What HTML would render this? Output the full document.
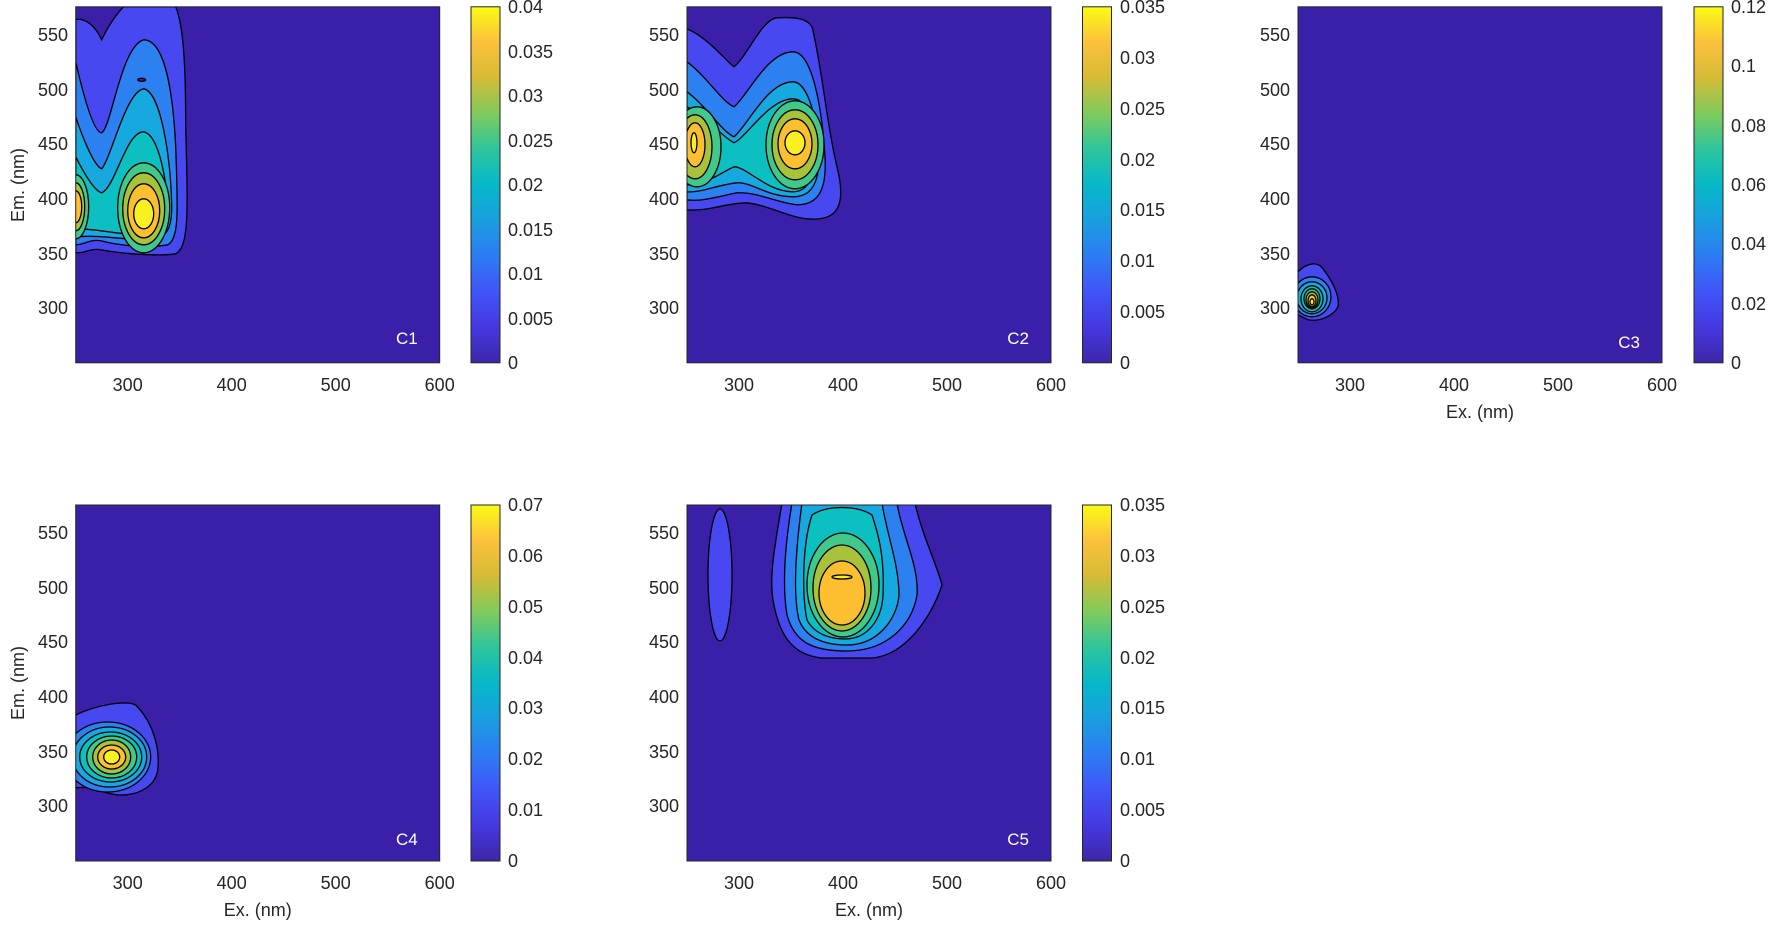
<!DOCTYPE html>
<html><head><meta charset="utf-8"><style>
html,body{margin:0;padding:0;background:#fff;}
svg{display:block;font-family:"Liberation Sans",Arial,sans-serif;}
.t{font-size:18px;fill:#262626;}
.c path,.c ellipse{stroke:#000;stroke-width:1.3;}
</style></head><body>
<svg width="1772" height="927" viewBox="0 0 1772 927">
<defs>
<linearGradient id="par" x1="0" y1="1" x2="0" y2="0">
<stop offset="0" stop-color="#3e26a8"/><stop offset="0.1" stop-color="#4538e0"/>
<stop offset="0.2" stop-color="#4055f8"/><stop offset="0.3" stop-color="#2c7cf2"/>
<stop offset="0.4" stop-color="#1a9ee0"/><stop offset="0.5" stop-color="#06b8c8"/>
<stop offset="0.6" stop-color="#2ec59c"/><stop offset="0.7" stop-color="#7fcb5c"/>
<stop offset="0.8" stop-color="#d5bb36"/><stop offset="0.9" stop-color="#fcc13c"/>
<stop offset="1" stop-color="#f9fb14"/></linearGradient>
<clipPath id="cp"><rect x="0" y="0" width="364" height="356"/></clipPath>
</defs>

<!-- ============ C1 ============ -->
<g transform="translate(75.7,6.8)">
<rect width="364" height="356" fill="#3a20a8"/>
<g clip-path="url(#cp)" class="c">
<path fill="#4748f0" d="M0,0 L100,0 C108,20 110,60 110,120 C112,200 114,240 100,247 C80,250 40,246 25,243 C15,241 8,247 0,246 Z"/>
<path fill="#3a20a8" d="M-2,13 C10,10 20,20 26,33 C32,20 42,5 50,-2 L-2,-2 Z"/>
<path fill="#2c80f0" d="M0,55 C8,90 18,126 26,126 C36,120 45,40 68,33 C88,33 97,80 100,140 C102,200 104,232 92,238 C70,242 40,238 25,234 C15,232 8,238 0,238 Z"/>
<path fill="#18a8e0" d="M0,110 C10,140 20,160 26,162 C36,150 50,85 68,82 C85,85 95,150 96,200 C96,225 90,232 70,233 C45,233 30,228 0,230 Z"/>
<path fill="#0cbfc0" d="M0,150 C10,170 20,185 26,186 C40,180 50,125 68,125 C84,128 92,180 92,205 C92,222 82,228 68,228 C40,228 25,222 0,222 Z"/>
<ellipse fill="#40c98a" cx="68" cy="201" rx="26" ry="45"/><ellipse fill="#40c98a" cx="0" cy="200" rx="13" ry="32"/>
<ellipse fill="#a8c23c" cx="68" cy="202" rx="21" ry="36"/><ellipse fill="#a8c23c" cx="0" cy="200" rx="9" ry="24"/>
<ellipse fill="#fcbf30" cx="68" cy="204" rx="16" ry="27"/><ellipse fill="#fcbf30" cx="0" cy="200" rx="6" ry="16"/>
<ellipse fill="#f8f020" cx="68" cy="207" rx="10" ry="15"/>
<ellipse fill="#3a20a8" cx="66" cy="73" rx="4" ry="1.5"/>
</g>
<rect width="364" height="356" fill="none" stroke="#262626" stroke-width="1"/>
<text x="342" y="337" fill="#fff" font-size="17" text-anchor="end">C1</text>
</g>

<!-- ============ C2 ============ -->
<g transform="translate(687,6.8)">
<rect width="364" height="356" fill="#3a20a8"/>
<g clip-path="url(#cp)" class="c">
<path fill="#4748f0" d="M0,22 C20,30 40,55 47,60 C60,50 75,12 90,11 C110,10 120,12 125,20 C135,60 140,120 150,160 C160,200 150,215 120,212 C100,210 80,198 60,196 C40,196 20,205 0,203 Z"/>
<path fill="#2c80f0" d="M0,55 C20,70 35,95 47,100 C60,90 80,45 106,45 C125,45 135,100 138,150 C140,185 130,198 110,198 C90,196 70,185 50,186 C30,190 15,195 0,193 Z"/>
<path fill="#18a8e0" d="M0,85 C20,100 35,125 47,130 C60,120 80,75 106,75 C122,75 132,120 132,150 C132,180 122,190 106,190 C80,190 65,175 50,176 C30,178 15,186 0,185 Z"/>
<path fill="#0cbfc0" d="M0,100 C20,110 35,130 47,136 C60,130 82,92 106,92 C124,92 128,130 128,145 C128,175 118,185 106,185 C80,185 60,160 47,160 C35,165 20,178 0,178 Z"/>
<ellipse fill="#40c98a" cx="10" cy="140" rx="24" ry="40"/><ellipse fill="#40c98a" cx="108" cy="138" rx="29" ry="44"/>
<ellipse fill="#a8c23c" cx="8" cy="140" rx="17" ry="32"/><ellipse fill="#a8c23c" cx="108" cy="138" rx="23" ry="35"/>
<ellipse fill="#fcbf30" cx="8" cy="138" rx="10" ry="22"/><ellipse fill="#fcbf30" cx="108" cy="137" rx="17" ry="25"/>
<ellipse fill="#f8f020" cx="108" cy="136" rx="10" ry="12"/><ellipse fill="#f8f020" cx="7" cy="136" rx="3" ry="10"/>
</g>
<rect width="364" height="356" fill="none" stroke="#262626"/>
<text x="342" y="337" fill="#fff" font-size="17" text-anchor="end">C2</text>
</g>

<!-- ============ C3 ============ -->
<g transform="translate(1298,6.8)">
<rect width="364" height="356" fill="#3a20a8"/>
<g clip-path="url(#cp)" class="c">
<path fill="#4748f0" d="M0,265 C10,255 20,255 25,262 C35,275 42,290 40,300 C35,310 20,315 10,313 L0,308 Z"/>
<ellipse fill="#2c80f0" cx="14" cy="290" rx="19" ry="20"/>
<ellipse fill="#18a8e0" cx="14" cy="291" rx="15" ry="16"/>
<ellipse fill="#0cbfc0" cx="14" cy="292" rx="11" ry="13"/>
<ellipse fill="#40c98a" cx="14" cy="292" rx="8" ry="10"/>
<ellipse fill="#a8c23c" cx="14" cy="293" rx="6" ry="8"/>
<ellipse fill="#fcbf30" cx="14" cy="294" rx="4" ry="6"/>
<ellipse fill="#f8f020" cx="14" cy="295" rx="2" ry="3"/>
</g>
<rect width="364" height="356" fill="none" stroke="#262626"/>
<text x="342" y="341" fill="#fff" font-size="17" text-anchor="end">C3</text>
</g>

<!-- ============ C4 ============ -->
<g transform="translate(75.7,505)">
<rect width="364" height="356" fill="#3a20a8"/>
<g clip-path="url(#cp)" class="c">
<path fill="#4748f0" d="M0,210 C20,200 50,195 60,200 C75,215 85,240 82,265 C80,280 65,290 45,290 C30,290 15,280 0,283 Z"/>
<ellipse fill="#2c80f0" cx="32" cy="252" rx="43" ry="35"/>
<ellipse fill="#18a8e0" cx="34" cy="252" rx="37" ry="30"/>
<ellipse fill="#0cbfc0" cx="35" cy="252" rx="31" ry="25"/>
<ellipse fill="#40c98a" cx="36" cy="252" rx="25" ry="21"/>
<ellipse fill="#a8c23c" cx="36" cy="252" rx="19" ry="17"/>
<ellipse fill="#fcbf30" cx="36" cy="252" rx="14" ry="12"/>
<ellipse fill="#f8f020" cx="36" cy="252" rx="8" ry="7"/>
</g>
<rect width="364" height="356" fill="none" stroke="#262626"/>
<text x="342" y="340" fill="#fff" font-size="17" text-anchor="end">C4</text>
</g>

<!-- ============ C5 ============ -->
<g transform="translate(687,505)">
<rect width="364" height="356" fill="#3a20a8"/>
<g clip-path="url(#cp)" class="c">
<ellipse fill="#4748f0" cx="33" cy="70" rx="12" ry="66"/>
<path fill="#4748f0" d="M95,-2 C88,40 82,70 86,95 C92,130 105,150 135,153 L185,153 C220,150 245,110 255,80 C250,60 235,30 228,-2 Z"/>
<path fill="#2c80f0" d="M105,-2 C98,40 95,80 100,110 C108,140 130,146 160,146 C200,146 225,120 230,90 C232,60 215,30 210,-2 Z"/>
<path fill="#18a8e0" d="M115,-2 C108,50 106,90 112,115 C120,135 140,140 160,140 C190,140 210,115 212,90 C212,60 200,30 195,-2 Z"/>
<path fill="#0cbfc0" d="M125,10 C115,40 115,90 120,115 C128,130 145,134 158,134 C180,134 195,115 196,90 C198,50 190,25 185,10 C170,0 140,0 125,10 Z"/>
<ellipse fill="#40c98a" cx="156" cy="80" rx="36" ry="52"/>
<ellipse fill="#a8c23c" cx="155" cy="83" rx="29" ry="43"/>
<ellipse fill="#fcbf30" cx="155" cy="88" rx="23" ry="32"/>
<ellipse fill="#f8f020" cx="155" cy="72" rx="10" ry="2"/>
</g>
<rect width="364" height="356" fill="none" stroke="#262626"/>
<text x="342" y="340" fill="#fff" font-size="17" text-anchor="end">C5</text>
</g>

<!-- Colorbars -->
<g stroke="#262626" stroke-width="1">
<rect x="471" y="6.8" width="29" height="356" fill="url(#par)"/>
<rect x="1082.5" y="6.8" width="29" height="356" fill="url(#par)"/>
<rect x="1694" y="6.8" width="29" height="356" fill="url(#par)"/>
<rect x="471" y="505" width="29" height="356" fill="url(#par)"/>
<rect x="1082.5" y="505" width="29" height="356" fill="url(#par)"/>
</g>

<!-- Tick labels -->
<g class="t" text-anchor="middle">
<text x="127.7" y="391">300</text><text x="231.7" y="391">400</text><text x="335.7" y="391">500</text><text x="439.7" y="391">600</text>
<text x="739" y="391">300</text><text x="843" y="391">400</text><text x="947" y="391">500</text><text x="1051" y="391">600</text>
<text x="1350" y="391">300</text><text x="1454" y="391">400</text><text x="1558" y="391">500</text><text x="1662" y="391">600</text>
<text x="127.7" y="889">300</text><text x="231.7" y="889">400</text><text x="335.7" y="889">500</text><text x="439.7" y="889">600</text>
<text x="739" y="889">300</text><text x="843" y="889">400</text><text x="947" y="889">500</text><text x="1051" y="889">600</text>
<text x="1480" y="418">Ex. (nm)</text>
<text x="257.7" y="916">Ex. (nm)</text>
<text x="869" y="916">Ex. (nm)</text>
</g>
<g class="t" text-anchor="end">
<text x="68" y="41">550</text><text x="68" y="96">500</text><text x="68" y="150">450</text><text x="68" y="205">400</text><text x="68" y="260">350</text><text x="68" y="314">300</text>
<text x="679" y="41">550</text><text x="679" y="96">500</text><text x="679" y="150">450</text><text x="679" y="205">400</text><text x="679" y="260">350</text><text x="679" y="314">300</text>
<text x="1290" y="41">550</text><text x="1290" y="96">500</text><text x="1290" y="150">450</text><text x="1290" y="205">400</text><text x="1290" y="260">350</text><text x="1290" y="314">300</text>
<text x="68" y="539">550</text><text x="68" y="594">500</text><text x="68" y="648">450</text><text x="68" y="703">400</text><text x="68" y="758">350</text><text x="68" y="812">300</text>
<text x="679" y="539">550</text><text x="679" y="594">500</text><text x="679" y="648">450</text><text x="679" y="703">400</text><text x="679" y="758">350</text><text x="679" y="812">300</text>
</g>
<g class="t">
<text transform="translate(24,185) rotate(-90)" text-anchor="middle">Em. (nm)</text>
<text transform="translate(24,683) rotate(-90)" text-anchor="middle">Em. (nm)</text>
<text x="508" y="13">0.04</text><text x="508" y="58">0.035</text><text x="508" y="102">0.03</text><text x="508" y="147">0.025</text><text x="508" y="191">0.02</text><text x="508" y="236">0.015</text><text x="508" y="280">0.01</text><text x="508" y="325">0.005</text><text x="508" y="369">0</text>
<text x="1120" y="13">0.035</text><text x="1120" y="64">0.03</text><text x="1120" y="115">0.025</text><text x="1120" y="166">0.02</text><text x="1120" y="216">0.015</text><text x="1120" y="267">0.01</text><text x="1120" y="318">0.005</text><text x="1120" y="369">0</text>
<text x="1731" y="13">0.12</text><text x="1731" y="72">0.1</text><text x="1731" y="132">0.08</text><text x="1731" y="191">0.06</text><text x="1731" y="250">0.04</text><text x="1731" y="310">0.02</text><text x="1731" y="369">0</text>
<text x="508" y="511">0.07</text><text x="508" y="562">0.06</text><text x="508" y="613">0.05</text><text x="508" y="664">0.04</text><text x="508" y="714">0.03</text><text x="508" y="765">0.02</text><text x="508" y="816">0.01</text><text x="508" y="867">0</text>
<text x="1120" y="511">0.035</text><text x="1120" y="562">0.03</text><text x="1120" y="613">0.025</text><text x="1120" y="664">0.02</text><text x="1120" y="714">0.015</text><text x="1120" y="765">0.01</text><text x="1120" y="816">0.005</text><text x="1120" y="867">0</text>
</g>
</svg>
</body></html>
